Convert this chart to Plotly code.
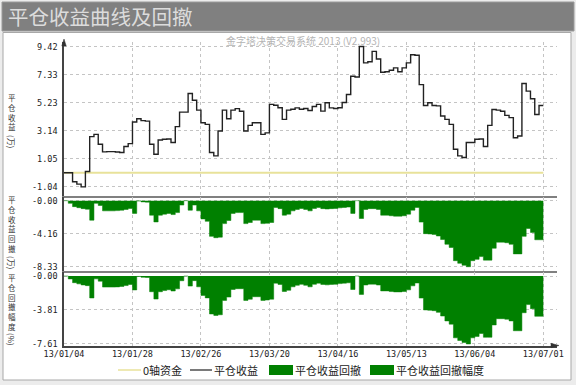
import plotly.graph_objects as go

# ---------------- data ----------------
days = list(range(113))  # trading-day index 13/01/04 .. 13/07/01
date_ticks = [0, 16, 32, 48, 64, 80, 96, 112]
date_labels = ["13/01/04", "13/01/28", "13/02/26", "13/03/20",
               "13/04/16", "13/05/13", "13/06/04", "13/07/01"]

profit = [
    0.00, 0.00, -0.67, -0.85, -1.05, 0.10, 2.70, 2.87, 2.13, 1.56,
    1.58, 1.58, 1.55, 1.51, 1.96, 2.18, 3.79, 4.04, 3.90, 3.86,
    2.13, 1.39, 2.45, 2.50, 2.52, 2.26, 3.45, 4.53, 4.53, 5.92,
    5.42, 4.68, 3.74, 3.62, 1.51, 1.26, 3.12, 4.68, 4.04, 4.68,
    4.79, 4.60, 3.12, 3.54, 3.74, 3.74, 2.87, 2.98, 5.11, 5.05,
    4.86, 3.99, 4.68, 4.75, 4.85, 4.75, 4.80, 4.65, 4.95, 5.11,
    4.61, 5.23, 4.85, 4.80, 4.86, 5.25, 5.85, 7.21, 7.16, 9.44,
    8.21, 8.30, 9.07, 8.50, 7.51, 7.55, 7.66, 7.84, 7.55, 7.84,
    8.21, 8.82, 8.78, 6.59, 5.03, 5.23, 5.03, 5.00, 4.24, 3.99,
    3.62, 1.76, 1.26, 1.14, 2.26, 2.26, 2.50, 2.52, 1.96, 3.54,
    4.73, 4.68, 4.60, 4.29, 4.12, 2.62, 2.75, 6.67, 6.10, 5.53,
    4.36, 5.03, 5.03,
]

drawdown = [
    0.00, -0.33, -0.75, -0.88, -1.00, -1.08, -2.46, -0.33, -0.60, -1.28,
    -1.28, -1.28, -1.25, -1.20, -1.10, -0.98, -1.60, -0.05, -0.15, -0.18,
    -1.83, -2.68, -1.83, -1.70, -1.60, -1.75, -1.50, -0.55, 0.00, -1.20,
    -0.55, -1.28, -2.30, -2.60, -4.50, -4.67, -4.60, -2.89, -2.50, -1.60,
    -1.50, -1.50, -2.89, -2.75, -2.46, -2.46, -2.89, -2.85, -2.75, -0.85,
    -1.00, -1.83, -1.70, -1.28, -1.10, -0.98, -1.10, -1.28, -0.98, -0.85,
    -1.00, -1.05, -1.00, -0.98, -0.90, -0.85, -0.80, -1.60, 0.00, -2.25,
    -1.10, -1.00, -1.00, -1.10, -1.83, -1.83, -1.90, -1.95, -1.95, -1.90,
    -1.70, -1.20, -0.85, -2.70, -4.16, -4.20, -4.25, -4.45, -4.90, -5.50,
    -5.90, -7.57, -7.90, -8.15, -8.33, -7.57, -7.40, -7.05, -7.50, -7.50,
    -6.00, -5.23, -5.23, -5.30, -5.50, -6.71, -6.71, -4.50, -3.50, -4.00,
    -4.93, -4.93, -4.93,
]

drawdown_pct = [
    0.00, -0.33, -0.75, -0.88, -1.00, -1.08, -2.46, -0.32, -0.58, -1.24,
    -1.24, -1.24, -1.22, -1.17, -1.07, -0.95, -1.56, -0.05, -0.14, -0.17,
    -1.76, -2.58, -1.76, -1.63, -1.54, -1.68, -1.44, -0.53, 0.00, -1.13,
    -0.52, -1.21, -2.17, -2.45, -4.25, -4.41, -4.34, -2.73, -2.36, -1.51,
    -1.42, -1.42, -2.73, -2.60, -2.32, -2.32, -2.73, -2.69, -2.60, -0.80,
    -0.94, -1.73, -1.60, -1.21, -1.04, -0.93, -1.04, -1.21, -0.93, -0.80,
    -0.94, -0.99, -0.94, -0.93, -0.85, -0.80, -0.76, -1.51, 0.00, -2.06,
    -1.01, -0.91, -0.91, -1.01, -1.67, -1.67, -1.74, -1.78, -1.78, -1.74,
    -1.55, -1.10, -0.78, -2.47, -3.80, -3.84, -3.88, -4.07, -4.48, -5.03,
    -5.39, -6.92, -7.22, -7.45, -7.61, -6.92, -6.76, -6.44, -6.86, -6.86,
    -5.48, -4.78, -4.78, -4.84, -5.03, -6.13, -6.13, -4.11, -3.20, -3.66,
    -4.51, -4.51, -4.51,
]

zero_days = [days[0], days[-1]]
zero_values = [0, 0]

profit_ticks = [9.42, 7.33, 5.23, 3.14, 1.05, -1.04]
profit_tick_text = ["9.42", "7.33", "5.23", "3.14", "1.05", "-1.04"]
dd_ticks = [0, -4.165, -8.33]
dd_tick_text = ["-0.00", "-4.16", "-8.33"]
pct_ticks = [0, -3.805, -7.61]
pct_tick_text = ["-0.00", "-3.81", "-7.61"]

# ---------------- layout helpers ----------------
W, H = 576, 385


def px(x):
    return x / W


def py(y):
    return 1 - y / H


CJK = "Noto Sans CJK SC"
MONO = "DejaVu Sans Mono"
GREEN = "#008000"
YELLOW = "#e8e29a"
GRID = "#c4c4c4"

fig = go.Figure()

fig.add_trace(go.Scatter(x=zero_days, y=zero_values, mode="lines",
                         line=dict(color=YELLOW, width=2),
                         xaxis="x", yaxis="y", showlegend=False, hoverinfo="skip"))
fig.add_trace(go.Scatter(x=days, y=profit, mode="lines",
                         line=dict(color="#222222", width=1.4, shape="hv"),
                         xaxis="x", yaxis="y", showlegend=False))
fig.add_trace(go.Scatter(x=days, y=drawdown, mode="lines", fill="tozeroy",
                         fillcolor=GREEN, line=dict(color=GREEN, width=0.5, shape="hv"),
                         xaxis="x2", yaxis="y2", showlegend=False))
fig.add_trace(go.Scatter(x=days, y=drawdown_pct, mode="lines", fill="tozeroy",
                         fillcolor=GREEN, line=dict(color=GREEN, width=0.5, shape="hv"),
                         xaxis="x3", yaxis="y3", showlegend=False))

x_dom = [px(64), px(557)]
x_rng = [0, 115.2]

common_x = dict(domain=x_dom, range=x_rng, tickvals=date_ticks, showgrid=True,
                gridcolor=GRID, griddash="dot", gridwidth=1, zeroline=False,
                fixedrange=True, automargin=False)
common_y = dict(showgrid=True, gridcolor=GRID, griddash="dot", gridwidth=1,
                zeroline=False, showline=True, linecolor="#444444", linewidth=1.5,
                tickfont=dict(family=MONO, size=8.5, color="#222222"),
                ticklabelstandoff=3, fixedrange=True, automargin=False)

fig.update_layout(
    width=W, height=H,
    margin=dict(l=0, r=0, t=0, b=0, pad=0, autoexpand=False),
    paper_bgcolor="#ececec",
    plot_bgcolor="white",
    showlegend=False,
    xaxis=dict(anchor="y", showticklabels=False, showline=True,
               linecolor="#808080", linewidth=2, **common_x),
    xaxis2=dict(anchor="y2", showticklabels=False, showline=True,
                linecolor="#808080", linewidth=2, **common_x),
    xaxis3=dict(anchor="y3", showticklabels=True, ticktext=date_labels,
                showline=True, linecolor="#444444", linewidth=1.5,
                tickfont=dict(family=MONO, size=8.5, color="#222222"),
                **common_x),
    yaxis=dict(anchor="x", domain=[py(195.7), py(42)], range=[-1.712, 9.771],
               tickvals=profit_ticks, ticktext=profit_tick_text, **common_y),
    yaxis2=dict(anchor="x2", domain=[py(271), py(196.5)], range=[-8.87, 0.53],
                tickvals=dd_ticks, ticktext=dd_tick_text, **common_y),
    yaxis3=dict(anchor="x3", domain=[py(345.5), py(271.5)], range=[-7.78, 0.504],
                tickvals=pct_ticks, ticktext=pct_tick_text, **common_y),
)

shapes = []
# white panel
shapes.append(dict(type="rect", xref="paper", yref="paper", x0=px(3), x1=px(571),
                   y0=py(380), y1=py(32.5), fillcolor="white",
                   line=dict(color="#a8a8a8", width=1), layer="below"))
# title bar
shapes.append(dict(type="rect", xref="paper", yref="paper", x0=px(2), x1=px(574),
                   y0=py(31), y1=py(2), fillcolor="#808080",
                   line=dict(color="#9a9a9a", width=1), layer="below"))
# y-axis arrow (top)
shapes.append(dict(type="path", xref="paper", yref="paper",
                   path=f"M {px(64)},{py(39)} L {px(61.8)},{py(46)} L {px(66.2)},{py(46)} Z",
                   fillcolor="#333333", line=dict(color="#333333", width=0.5)))
# x-axis arrow (right)
shapes.append(dict(type="path", xref="paper", yref="paper",
                   path=f"M {px(559)},{py(345.5)} L {px(551)},{py(343.3)} L {px(551)},{py(347.7)} Z",
                   fillcolor="#333333", line=dict(color="#333333", width=0.5)))

# legend symbols
ly = 370
shapes.append(dict(type="line", xref="paper", yref="paper", x0=px(118), x1=px(141),
                   y0=py(ly), y1=py(ly), line=dict(color=YELLOW, width=1.5)))
shapes.append(dict(type="line", xref="paper", yref="paper", x0=px(190), x1=px(212),
                   y0=py(ly), y1=py(ly), line=dict(color="#222222", width=1.2)))
shapes.append(dict(type="rect", xref="paper", yref="paper", x0=px(269), x1=px(293),
                   y0=py(ly + 5), y1=py(ly - 5), fillcolor=GREEN, line=dict(width=0)))
shapes.append(dict(type="rect", xref="paper", yref="paper", x0=px(370), x1=px(394),
                   y0=py(ly + 5), y1=py(ly - 5), fillcolor=GREEN, line=dict(width=0)))
fig.update_layout(shapes=shapes)

ann = []


def text(x, y, s, size, color, family=CJK, xanchor="left", angle=0):
    ann.append(dict(xref="paper", yref="paper", x=px(x), y=py(y), text=s,
                    showarrow=False, xanchor=xanchor, yanchor="middle",
                    textangle=angle, borderpad=0,
                    font=dict(family=family, size=size, color=color)))


# title
text(7, 16.5, "平仓收益曲线及回撤", 20.5, "#dcdcdc")
# subtitle
text(303, 40, "金字塔决策交易系统 2013 (V2.993)", 10, "#b4b4b4", xanchor="center")

# legend texts
text(142, ly, "0轴资金", 11, "#222222")
text(213, ly, "平仓收益", 11, "#222222")
text(294, ly, "平仓收益回撤", 11, "#222222")
text(395, ly, "平仓收益回撤幅度", 11, "#222222")


# vertical axis titles (upright stacked characters, rotated bracket part)
def vtitle(chars, center, paren, pcenter):
    text(12, center, "<br>".join(chars), 7.5, "#333333", xanchor="center")
    text(12, pcenter, paren, 8, "#333333", xanchor="center", angle=90)


vtitle("平仓收益", 112, "(万)", 141)
vtitle("平仓收益回撤", 223.5, "(万)", 262)
vtitle("平仓回撤幅度", 301.5, "(%)", 339)

fig.update_layout(annotations=ann)

fig.write_html("out.html")
